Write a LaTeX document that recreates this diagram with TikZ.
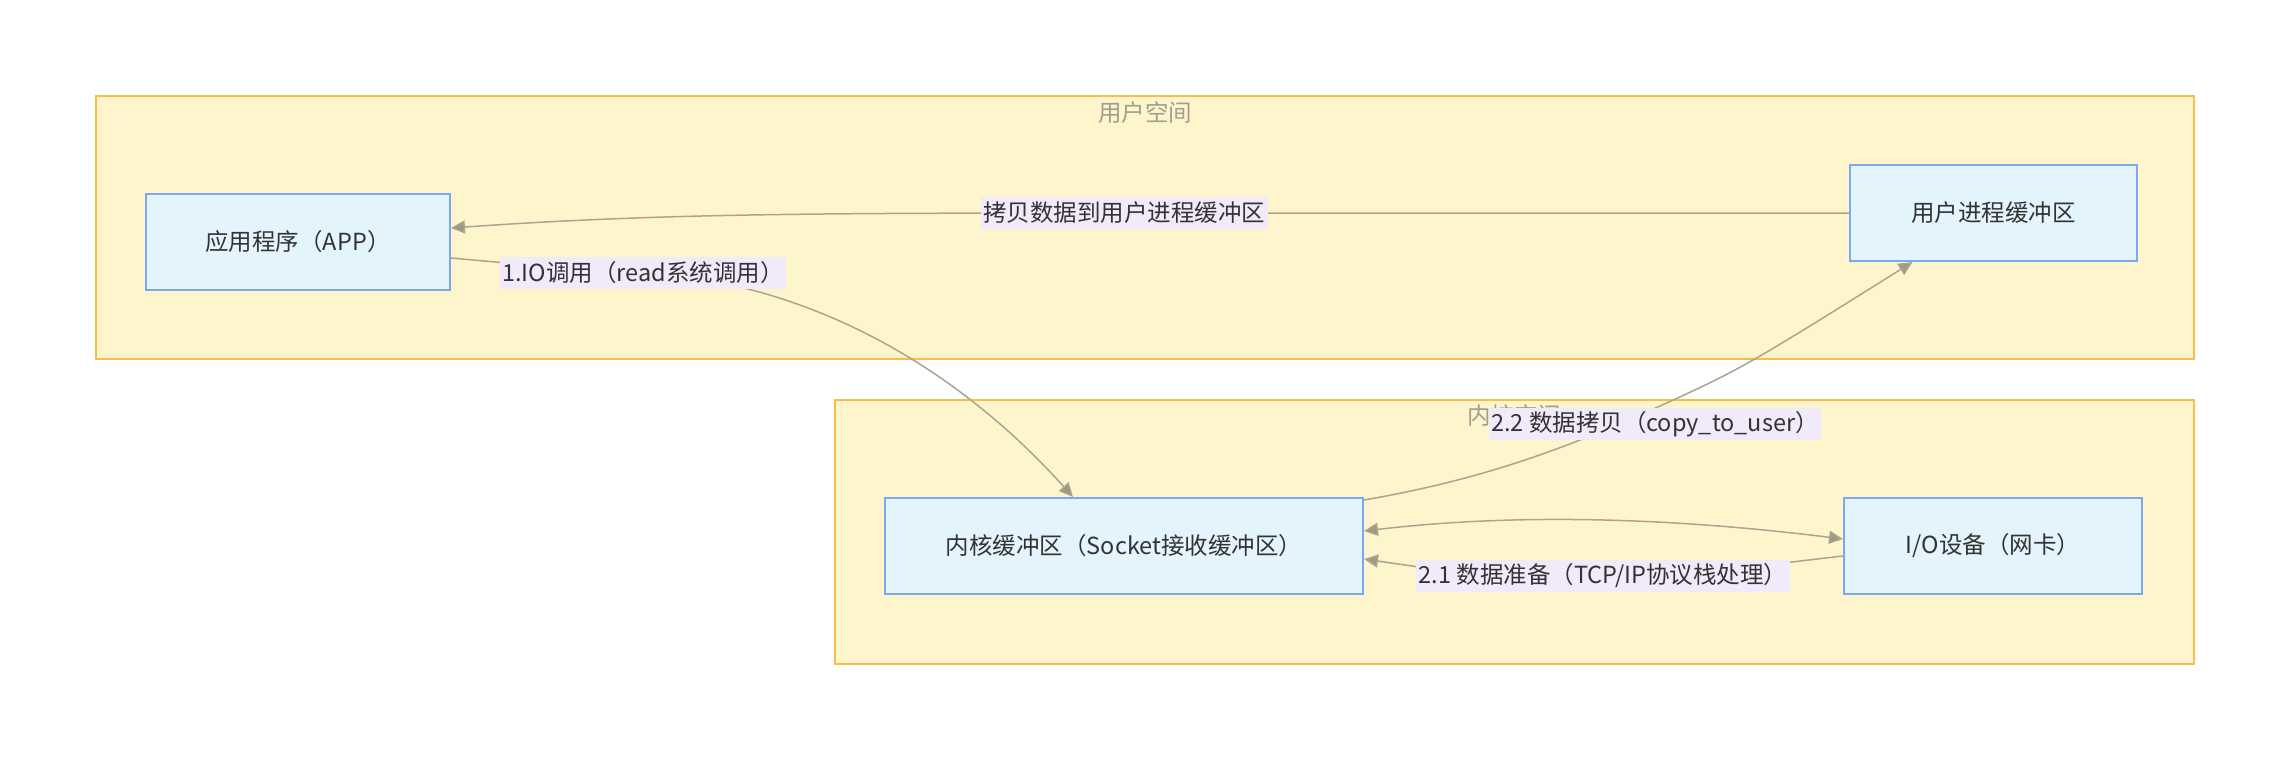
\documentclass[tikz,border=0pt]{standalone}
\usepackage{fontspec}
\setmainfont{Noto Sans CJK SC}
\usetikzlibrary{arrows.meta,calc}
\definecolor{clfill}{HTML}{FFF5CC}
\definecolor{clstroke}{HTML}{FBBC4C}
\definecolor{nfill}{HTML}{E3F4FD}
\definecolor{nstroke}{HTML}{7BA8F0}
\definecolor{lblfill}{HTML}{F1EAFB}
\definecolor{edgec}{HTML}{A8A590}
\definecolor{tipc}{HTML}{9E9B80}
\definecolor{txt}{HTML}{333333}
\definecolor{ttl}{HTML}{A09E8E}
\begin{document}
\begin{tikzpicture}[x=0.4pt,y=-0.4pt,
  font=\fontsize{9.4}{11}\selectfont,
  cluster/.style={draw=clstroke,fill=clfill,line width=0.6pt,inner sep=0pt},
  ctitle/.style={text=ttl,inner sep=0pt},
  box/.style={draw=nstroke,fill=nfill,line width=0.8pt,text=txt,minimum height=38.4pt,inner sep=0pt},
  lbl/.style={fill=lblfill,text=txt,inner xsep=1pt,inner ysep=0pt,minimum height=12.8pt},
  edge/.style={draw=edgec,line width=0.6pt,-{Triangle[length=5.6pt,width=5.2pt,fill=tipc]}},
  biedge/.style={draw=edgec,line width=0.6pt,{Triangle[length=5.6pt,width=5.2pt,fill=tipc]}-{Triangle[length=5.6pt,width=5.2pt,fill=tipc]}}]
\useasboundingbox[fill=white] (0,0) rectangle (2289,761);
% clusters
\node[cluster,minimum width=839.2pt,minimum height=105.2pt] (user) at (1145,227.5) {};
\node[cluster,minimum width=543.6pt,minimum height=105.6pt] (kernel) at (1514.5,532) {};
\node[ctitle] (usert) at (1145,113) {用户空间};
\node[ctitle] (kernt) at (1514,416) {内核空间};
% nodes
\node[box,minimum width=121.6pt] (app) at (298,242) {应用程序（APP）};
\node[box,minimum width=114.8pt] (ub) at (1993.5,213) {用户进程缓冲区};
\node[box,minimum width=191.2pt] (kb) at (1124,546) {内核缓冲区（Socket接收缓冲区）};
\node[box,minimum width=119.2pt] (io) at (1993,546) {I/O设备（网卡）};
% edges
\draw[edge] ($(app.east)+(0,16)$) .. controls (540,266) .. (643,273)
  node[lbl] (l1) {1.IO调用（read系统调用）}
  .. controls (800,281) and (950,360) .. ($(kb.north)+(-51,0)$);
\draw[edge] ($(kb.north east)+(0,3)$) .. controls (1480,480) and (1560,450) .. (1640,415)
  .. controls (1740,370) .. ($(ub.south)+(-81,0)$);
\node[lbl] (l22) at (1655,424) {2.2 数据拷贝（copy\_to\_user）};
\draw[edge] (ub.west) -- (1124,213) node[lbl] (l3) {拷贝数据到用户进程缓冲区}
  .. controls (800,213) and (650,214) .. ($(app.east)+(0,-14)$);
\draw[biedge] ($(kb.east)+(0,-15)$) .. controls (1500,515) and (1650,515) .. ($(io.west)+(0,-7)$);
\draw[edge] ($(io.west)+(0,10)$) .. controls (1720,570) and (1700,576) .. (1603,576)
  node[lbl] (l21) {2.1 数据准备（TCP/IP协议栈处理）}
  .. controls (1480,576) .. ($(kb.east)+(0,13)$);
\end{tikzpicture}
\end{document}
